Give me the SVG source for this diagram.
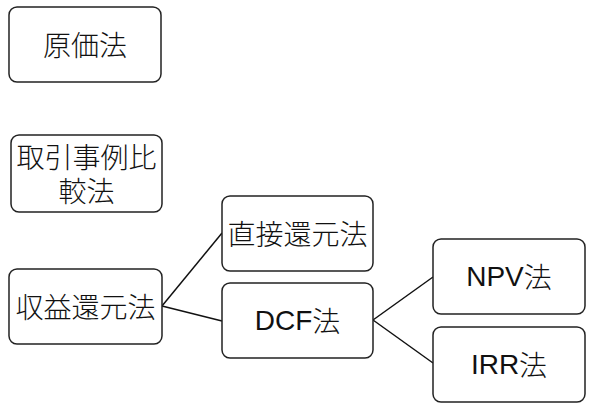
<svg xmlns="http://www.w3.org/2000/svg" width="596" height="410" viewBox="0 0 596 410">
<style>
.box{fill:#fff;stroke:#222;stroke-width:1.5}
.t{font-family:"Noto Sans CJK JP","Liberation Sans",sans-serif;font-size:28px;font-weight:300;fill:#111;text-anchor:middle;dominant-baseline:central}
.l{font-family:"Liberation Sans","Noto Sans CJK JP",sans-serif;font-weight:400}
.c{fill:none;stroke:#111;stroke-width:1.5}
</style>
<rect width="596" height="410" fill="#fff"/>
<g id="connectors">
<line class="c" x1="162" y1="306" x2="222" y2="233"/>
<line class="c" x1="162" y1="306" x2="222" y2="321"/>
<line class="c" x1="373" y1="320" x2="433" y2="277"/>
<line class="c" x1="373" y1="320" x2="433" y2="363"/>
</g>
<g id="n1"><rect class="box" x="9" y="7" width="152" height="75" rx="8"/><text class="t" x="85" y="44">原価法</text></g>
<g id="n2"><rect class="box" x="11" y="135" width="151" height="77" rx="8"/><text class="t"><tspan x="86.5" y="156">取引事例比</tspan><tspan x="86.5" y="190">較法</tspan></text></g>
<g id="n3"><rect class="box" x="9" y="269" width="153" height="75" rx="8"/><text class="t" x="85.5" y="306">収益還元法</text></g>
<g id="n4"><rect class="box" x="222" y="196" width="151" height="75" rx="8"/><text class="t" x="297.5" y="233">直接還元法</text></g>
<g id="n5"><rect class="box" x="222" y="283" width="151" height="75" rx="8"/><text class="t" x="297.5" y="320"><tspan class="l">DCF</tspan>法</text></g>
<g id="n6"><rect class="box" x="433" y="239" width="152" height="75" rx="8"/><text class="t" x="509" y="276"><tspan class="l">NPV</tspan>法</text></g>
<g id="n7"><rect class="box" x="433" y="327" width="152" height="75" rx="8"/><text class="t" x="509" y="364"><tspan class="l">IRR</tspan>法</text></g>
</svg>
